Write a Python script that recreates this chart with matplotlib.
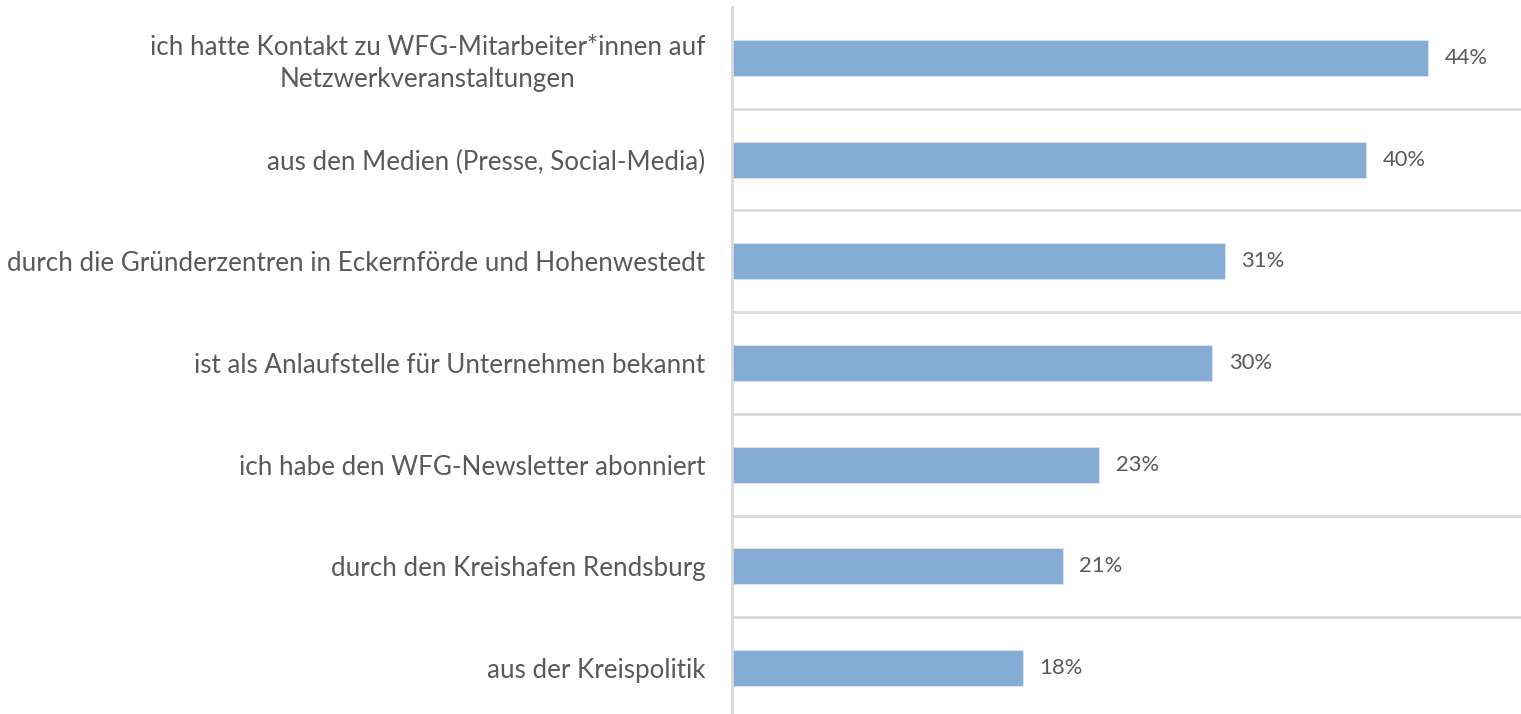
import matplotlib
matplotlib.use("Agg")
import matplotlib.pyplot as plt

categories = [
    "ich hatte Kontakt zu WFG-Mitarbeiter*innen auf\nNetzwerkveranstaltungen",
    "aus den Medien (Presse, Social-Media)",
    "durch die Gründerzentren in Eckernförde und Hohenwestedt",
    "ist als Anlaufstelle für Unternehmen bekannt",
    "ich habe den WFG-Newsletter abonniert",
    "durch den Kreishafen Rendsburg",
    "aus der Kreispolitik",
]
values = [43.8, 39.9, 31.0, 30.2, 23.1, 20.8, 18.3]
value_labels = ["44%", "40%", "31%", "30%", "23%", "21%", "18%"]

bar_color = "#84acd4"
text_color = "#595959"
grid_color = "#d9d9d9"

plt.rcParams["font.family"] = ["Lato", "DejaVu Sans"]

fig = plt.figure(figsize=(15.21, 7.14), dpi=100)
W, H = 1521, 714
ax = fig.add_axes([732 / W, -5 / H, 795 / W, 712 / H])

pos = list(range(len(categories)))
bars = ax.barh(pos, values, height=0.355, color=bar_color, edgecolor="#dbe6f2", linewidth=0.6)
ax.set_ylim(len(categories) - 0.5, -0.5)
ax.set_xlim(0, 50)

# category separators
for b in range(1, len(categories) + 1):
    ax.axhline(b - 0.5, color=grid_color, linewidth=2, zorder=0)

ax.set_yticks(pos)
ax.set_yticklabels(categories, fontsize=18.75, color=text_color,
                   multialignment="center", linespacing=1.32)
ax.tick_params(axis="y", length=0, pad=19)
ax.set_xticks([])

for s in ["top", "right", "bottom"]:
    ax.spines[s].set_visible(False)
ax.spines["left"].set_color(grid_color)
ax.spines["left"].set_linewidth(2)

ax.bar_label(bars, labels=value_labels, padding=12, fontsize=15.8, color=text_color)

fig.savefig("out.png", dpi=100)
